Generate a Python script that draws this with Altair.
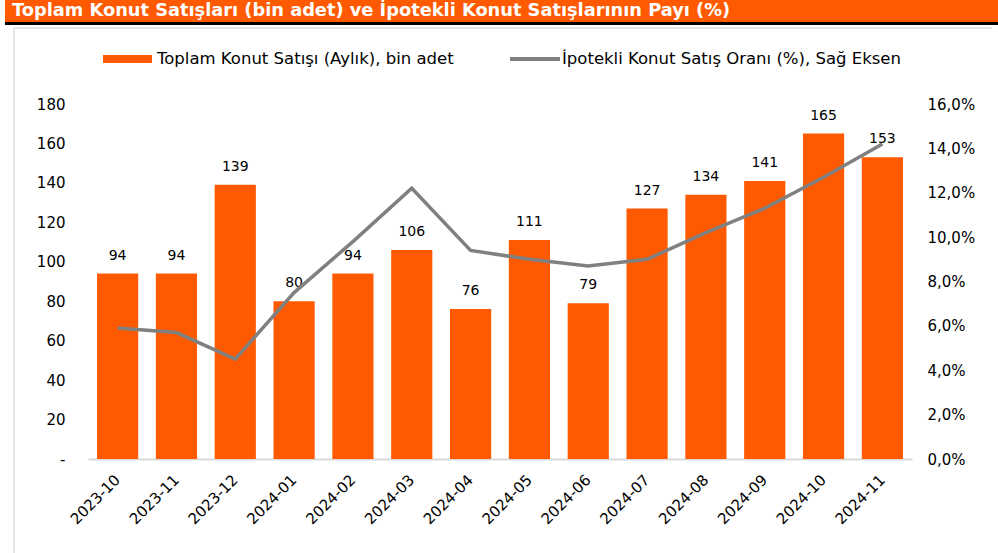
import altair as alt
import pandas as pd

months = ["2023-10", "2023-11", "2023-12", "2024-01", "2024-02", "2024-03", "2024-04",
          "2024-05", "2024-06", "2024-07", "2024-08", "2024-09", "2024-10", "2024-11"]
sales = [94, 94, 139, 80, 94, 106, 76, 111, 79, 127, 134, 141, 165, 153]
mortgage_share = [5.9, 5.7, 4.5, 7.5, 9.8, 12.2, 9.4, 9.0, 8.7, 9.0, 10.2, 11.3, 12.7, 14.2]
left_ticks = [0, 20, 40, 60, 80, 100, 120, 140, 160, 180]
right_ticks = [0, 2, 4, 6, 8, 10, 12, 14, 16]

title_text = "Toplam Konut Satışları (bin adet) ve İpotekli Konut Satışlarının Payı (%)"
legend_bar = "Toplam Konut Satışı (Aylık), bin adet"
legend_line = "İpotekli Konut Satış Oranı (%), Sağ Eksen"

df = pd.DataFrame({"month": months, "sales": sales, "share": mortgage_share})
one = pd.DataFrame({"k": [0]})

ORANGE = "#FF5A00"
GRAY = "#808080"
FONT = "DejaVu Sans"
FS = 14

left_axis = alt.Axis(values=left_ticks, domain=False, ticks=False, grid=False,
                     labelPadding=23, labelFont=FONT, labelFontSize=15,
                     labelColor="#000000", labelOverlap=False,
                     labelExpr="datum.value == 0 ? '-' : datum.label")

xenc = alt.X("month:N", sort=months, title=None,
             scale=alt.Scale(paddingInner=0.3, paddingOuter=0.153),
             axis=alt.Axis(labelAngle=-45, labelAlign="right", labelBaseline="middle",
                           labelPadding=18, ticks=False, domainColor="#d9d9d9",
                           domainWidth=2, labelFont=FONT, labelFontSize=15,
                           labelColor="#000000", labelOverlap=False))

bars = alt.Chart(df).mark_bar(color=ORANGE).encode(
    x=xenc,
    y=alt.Y("sales:Q", title=None, scale=alt.Scale(domain=[0, 180], nice=False),
            axis=left_axis),
)

labels = alt.Chart(df).mark_text(font=FONT, fontSize=FS, color="#000000",
                                 baseline="bottom", dy=-11).encode(
    x=alt.X("month:N", sort=months),
    y=alt.Y("sales:Q", title=None, scale=alt.Scale(domain=[0, 180], nice=False),
            axis=left_axis),
    text=alt.Text("sales:Q"),
)

left = alt.layer(bars, labels)

line = alt.Chart(df).mark_line(color=GRAY, strokeWidth=3.5).encode(
    x=alt.X("month:N", sort=months),
    y=alt.Y("share:Q", title=None, scale=alt.Scale(domain=[0, 16], nice=False),
            axis=alt.Axis(orient="right", values=right_ticks, domain=False, ticks=False,
                          grid=False, labelPadding=15, labelFont=FONT, labelFontSize=15,
                          labelColor="#000000", labelOverlap=False,
                          labelExpr="replace(format(datum.value, '.1f'), '.', ',') + '%'")),
)

title_bar = alt.Chart(one).mark_rect(color=ORANGE).encode(
    x=alt.value(-83), x2=alt.value(910), y=alt.value(-104), y2=alt.value(-82))
title_line = alt.Chart(one).mark_rule(color="#000000", strokeWidth=3).encode(
    x=alt.value(-83), x2=alt.value(910), y=alt.value(-80.5))
frame_top = alt.Chart(one).mark_rule(color="#e6e6e6", strokeWidth=2).encode(
    x=alt.value(-74), x2=alt.value(904), y=alt.value(-76))
frame_left = alt.Chart(one).mark_rule(color="#e6e6e6", strokeWidth=2).encode(
    x=alt.value(-74), y=alt.value(-76), y2=alt.value(449))
title_txt = alt.Chart(one).mark_text(font=FONT, fontSize=17.8, fontWeight="bold",
                                     color="#ffffff", align="left",
                                     baseline="middle").encode(
    x=alt.value(-76), y=alt.value(-93), text=alt.value(title_text))

leg_rect = alt.Chart(one).mark_rect(color=ORANGE).encode(
    x=alt.value(15), x2=alt.value(64), y=alt.value(-49), y2=alt.value(-41))
leg_txt1 = alt.Chart(one).mark_text(font=FONT, fontSize=16.5, color="#000000",
                                    align="left", baseline="middle").encode(
    x=alt.value(69), y=alt.value(-45), text=alt.value(legend_bar))
leg_rule = alt.Chart(one).mark_rule(color=GRAY, strokeWidth=4).encode(
    x=alt.value(422), x2=alt.value(472), y=alt.value(-45))
leg_txt2 = alt.Chart(one).mark_text(font=FONT, fontSize=16.5, color="#000000",
                                    align="left", baseline="middle").encode(
    x=alt.value(474), y=alt.value(-45), text=alt.value(legend_line))

chart = alt.layer(
    left, line,
    title_bar, title_line, frame_top, frame_left, title_txt,
    leg_rect, leg_txt1, leg_rule, leg_txt2,
).resolve_scale(y="independent").properties(
    width=824, height=355,
    autosize=alt.AutoSizeParams(type="none"),
    padding={"left": 88, "top": 104, "right": 86, "bottom": 94},
    background="#ffffff",
).configure_view(stroke=None).configure_axis(labelOverlap=False)

chart.save("out.html", embed_options={"renderer": "svg", "actions": False})
